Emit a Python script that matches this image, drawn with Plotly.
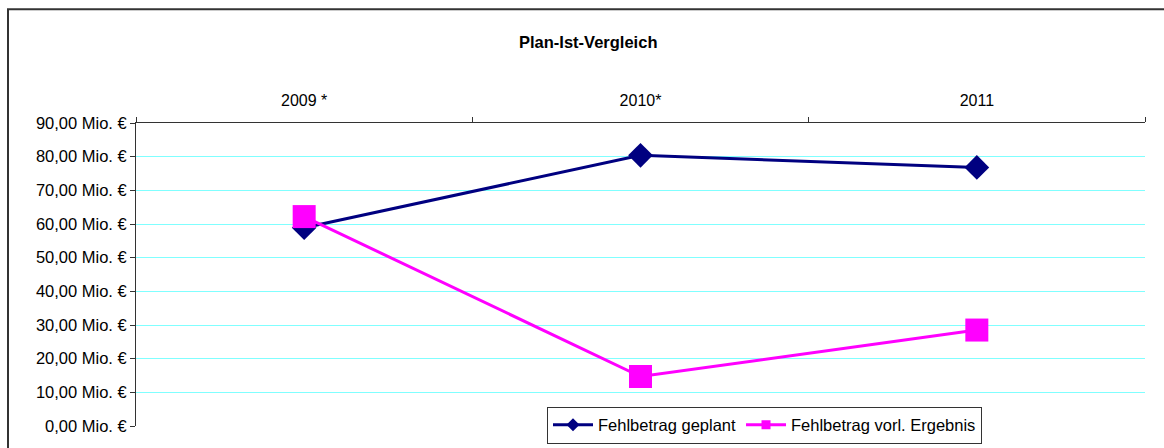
import plotly.graph_objects as go

years = ["2009 *", "2010*", "2011"]
geplant = [58.9, 80.4, 76.8]
ergebnis = [62.2, 14.7, 28.5]
y_ticks = [0, 10, 20, 30, 40, 50, 60, 70, 80, 90]
y_labels = [f"{v},00 Mio. €" for v in y_ticks]

NAVY = "#000080"
PINK = "#FF00FF"
FONT = "Liberation Sans, Arial, sans-serif"

fig = go.Figure()
fig.add_trace(go.Scatter(x=years, y=geplant, mode="lines+markers", showlegend=False,
                         line=dict(color=NAVY, width=3),
                         marker=dict(symbol="diamond", size=19, color=NAVY)))
fig.add_trace(go.Scatter(x=years, y=ergebnis, mode="lines+markers", showlegend=False,
                         line=dict(color=PINK, width=3),
                         marker=dict(symbol="square", size=23, color=PINK)))
# legend entries
fig.add_trace(go.Scatter(x=[None], y=[None], mode="lines+markers", name="Fehlbetrag geplant",
                         line=dict(color=NAVY, width=3),
                         marker=dict(symbol="diamond", size=10, color=NAVY)))
fig.add_trace(go.Scatter(x=[None], y=[None], mode="lines+markers", name="Fehlbetrag vorl. Ergebnis",
                         line=dict(color=PINK, width=3),
                         marker=dict(symbol="square", size=9, color=PINK)))

W, H = 1164, 448
L, T = 136, 123
R = W - 1145
B = H - 426.5
pw, ph = W - L - R, H - T - B

def px(x):
    return (x - L) / pw

def py(y):
    return (H - B - y) / ph

fig.update_layout(
    width=W, height=H,
    margin=dict(l=L, r=R, t=T, b=B, pad=0, autoexpand=False),
    paper_bgcolor="white", plot_bgcolor="white",
    font=dict(family=FONT, size=16, color="#000000"),
    showlegend=True,
    legend=dict(orientation="h", x=px(547), y=py(407), xanchor="left", yanchor="top",
                bgcolor="white", bordercolor="#333333", borderwidth=1,
                font=dict(size=16.5), itemwidth=40, tracegroupgap=0),
    xaxis=dict(type="category", side="top", range=[-0.5, 2.5], automargin=False,
               tickson="boundaries", ticks="outside", ticklen=5, tickcolor="#333333",
               showline=True, linecolor="#333333", linewidth=1, showgrid=False,
               ticklabelstandoff=10, tickfont=dict(size=16)),
    yaxis=dict(range=[0, 90], tickvals=y_ticks, ticktext=y_labels, automargin=False,
               ticks="outside", ticklen=5, tickcolor="#333333",
               showline=True, linecolor="#333333", linewidth=1,
               showgrid=True, gridcolor="#80FFFF", gridwidth=1, zeroline=False,
               tickfont=dict(size=16.5)),
    annotations=[dict(text="<b>Plan-Ist-Vergleich</b>", xref="paper", yref="paper",
                      x=px(588), y=py(42), xanchor="center", yanchor="middle",
                      showarrow=False, font=dict(size=16.5))],
    shapes=[dict(type="rect", xref="paper", yref="paper",
                 x0=px(8), y0=py(470), x1=px(1190), y1=py(9),
                 line=dict(color="#333333", width=2), layer="below")],
)

fig.write_html(
    "out.html",
    config={"displayModeBar": False},
    post_script="document.body.style.margin='0';document.body.style.overflow='hidden';",
)
